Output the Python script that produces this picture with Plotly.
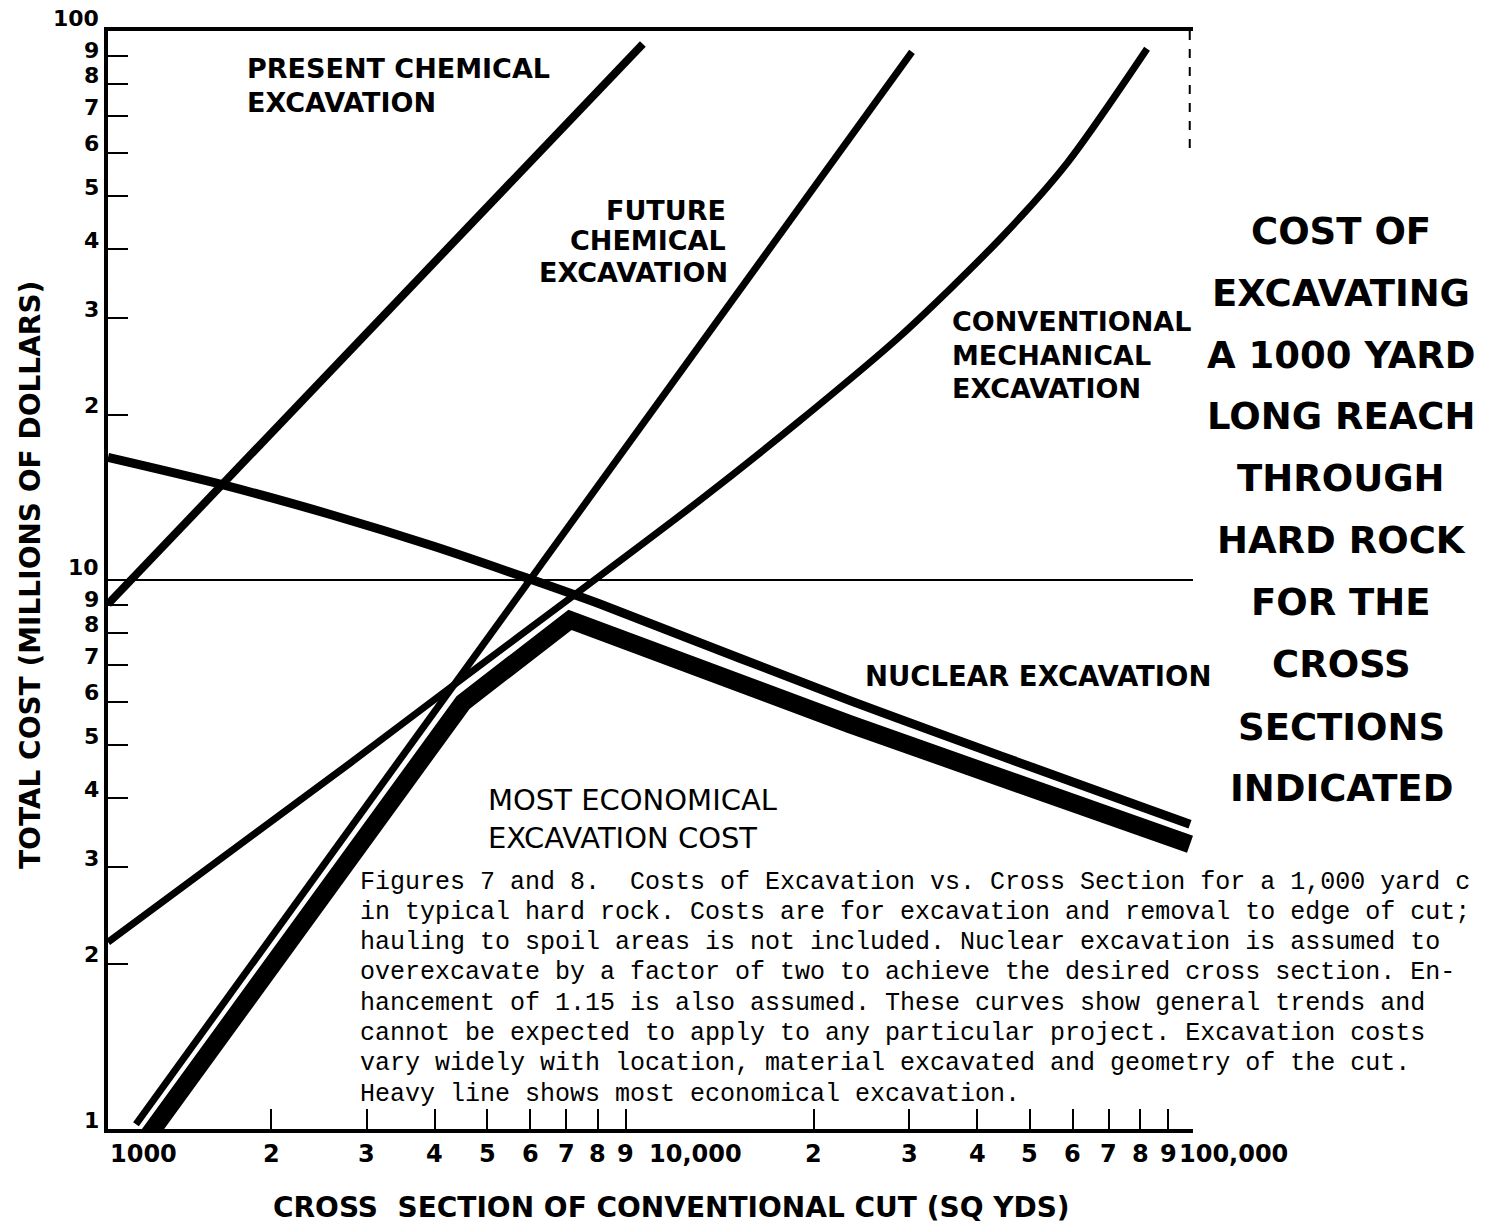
import math
import plotly.graph_objects as go

# ---- data: cross section of conventional cut (sq yds) vs total cost (millions of $) ----
present_x = [1000, 9680]
present_y = [9.04, 94.7]

future_x = [1126, 30340]
future_y = [1.02, 91.6]

conventional_x = [1000, 2795, 4395, 7320, 12330, 18860, 28840, 44080, 58560, 82280]
conventional_y = [2.19, 4.64, 6.50, 9.47, 13.97, 19.52, 27.8, 41.8, 57.4, 92.8]

nuclear_x = [1000, 1644, 2598, 3972, 5921, 8070, 23320, 98740]
nuclear_y = [16.72, 14.87, 13.12, 11.53, 10.08, 9.04, 6.03, 3.59]

# heavy line: cheapest method at each cross section
economical_x = [1184, 4512, 7105, 23320, 98740]
economical_y = [0.97, 5.98, 8.46, 5.46, 3.30]

rule_x = [1000, 100000]
rule_y = [10, 10]

# ---- tick values and labels ----
x_tick_vals = [m * d for d in (1000, 10000) for m in range(2, 10)] + [100000]
x_minor_labels = [str(m) for m in range(2, 10)]
x_major_vals = [1000, 10000, 100000]
x_major_labels = ["1000", "10,000", "100,000"]

y_tick_vals = [m * d for d in (1, 10) for m in range(2, 10)]
y_label_vals = [m for m in range(1, 10)] + [m * 10 for m in range(1, 10)] + [100]
y_label_text = [str(m) for m in range(1, 10)] + ["10"] + [str(m) for m in range(2, 10)] + ["100"]

caption_lines = [
    "Figures 7 and 8.  Costs of Excavation vs. Cross Section for a 1,000 yard c",
    "in typical hard rock. Costs are for excavation and removal to edge of cut;",
    "hauling to spoil areas is not included. Nuclear excavation is assumed to",
    "overexcavate by a factor of two to achieve the desired cross section. En-",
    "hancement of 1.15 is also assumed. These curves show general trends and",
    "cannot be expected to apply to any particular project. Excavation costs",
    "vary widely with location, material excavated and geometry of the cut.",
    "Heavy line shows most economical excavation.",
]

title_lines = ["COST OF", "EXCAVATING", "A 1000 YARD", "LONG REACH", "THROUGH",
               "HARD ROCK", "FOR THE", "CROSS", "SECTIONS", "INDICATED"]

# ---- page geometry ----
W, H = 1485, 1225
ML, MR, MT, MB = 108, 292, 31, 96
PW, PH = W - ML - MR, H - MT - MB

BOLD = "DejaVu Sans"
INK = "black"


def paper(px, py):
    return (px - ML) / PW, (H - MB - py) / PH


fig = go.Figure()

fig.add_trace(go.Scatter(x=rule_x, y=rule_y, mode="lines",
                         line=dict(color=INK, width=2), hoverinfo="skip"))
fig.add_trace(go.Scatter(x=economical_x, y=economical_y, mode="lines",
                         line=dict(color=INK, width=18), name="Most economical"))
fig.add_trace(go.Scatter(x=present_x, y=present_y, mode="lines",
                         line=dict(color=INK, width=8), name="Present chemical"))
fig.add_trace(go.Scatter(x=future_x, y=future_y, mode="lines",
                         line=dict(color=INK, width=7), name="Future chemical"))
fig.add_trace(go.Scatter(x=conventional_x, y=conventional_y, mode="lines",
                         line=dict(color=INK, width=7, shape="spline", smoothing=0.8),
                         name="Conventional mechanical"))
fig.add_trace(go.Scatter(x=nuclear_x, y=nuclear_y, mode="lines",
                         line=dict(color=INK, width=9, shape="spline", smoothing=0.8),
                         name="Nuclear"))

annotations = []


def label(text, px, py, anchor="left", size=27, weight="bold", family=BOLD, **kw):
    x, y = paper(px, py)
    annotations.append(dict(
        text=text, x=x, y=y, xref="paper", yref="paper",
        xanchor=anchor, yanchor="middle", showarrow=False,
        font=dict(family=family, size=size, color=INK, weight=weight), **kw))


# y tick labels, sitting just above their ticks
for v, t in zip(y_label_vals, y_label_text):
    lift = 13 if t in ("10", "100") else (6 if t == "9" else 9)
    annotations.append(dict(
        text=t, x=0, y=math.log10(v), xref="paper", yref="y",
        xanchor="right", yanchor="middle", xshift=-7, yshift=lift, showarrow=False,
        font=dict(family=BOLD, size=22, color=INK, weight="bold")))

# x tick labels
for v, t in zip(x_tick_vals, x_minor_labels * 2):
    annotations.append(dict(
        text=t, x=math.log10(v), y=0, xref="x", yref="paper",
        xanchor="center", yanchor="middle", yshift=-25, showarrow=False,
        font=dict(family=BOLD, size=24, color=INK, weight="bold")))
for v, t, dx in zip(x_major_vals, x_major_labels, (0, -4, -16)):
    annotations.append(dict(
        text=t, x=math.log10(v), y=0, xref="x", yref="paper",
        xanchor="left", yanchor="middle", xshift=dx, yshift=-25, showarrow=False,
        font=dict(family=BOLD, size=24, color=INK, weight="bold")))

# axis titles
label("CROSS\u00a0 SECTION OF CONVENTIONAL CUT (SQ YDS)", 672, 1207, anchor="center", size=28)
annotations.append(dict(
    text="TOTAL COST (MILLIONS OF DOLLARS)", x=paper(30, 575)[0], y=paper(30, 575)[1],
    xref="paper", yref="paper", xanchor="center", yanchor="middle", textangle=-90,
    showarrow=False, font=dict(family=BOLD, size=28, color=INK, weight="bold")))

# curve labels
label("PRESENT CHEMICAL", 245, 69)
label("EXCAVATION", 245, 102)
label("FUTURE", 728, 210, anchor="right")
label("CHEMICAL", 728, 240, anchor="right")
label("EXCAVATION", 730, 272, anchor="right")
label("CONVENTIONAL", 950, 321)
label("MECHANICAL", 950, 355)
label("EXCAVATION", 950, 388)
label("NUCLEAR EXCAVATION", 863, 676, size=27.5)
label("MOST ECONOMICAL", 486, 800, size=29, weight="normal")
label("EXCAVATION COST", 486, 838, size=29, weight="normal")

# title block at the right
title_y = [232, 293, 355, 416, 478, 540, 602, 664, 727, 788]
for t, py in zip(title_lines, title_y):
    label(t, 1341, py, anchor="center", size=37)

# caption
for i, t in enumerate(caption_lines):
    label(t, 358, 882 + 30.3 * i, size=25, weight="normal", family="Liberation Mono")

axis_common = dict(type="log", showgrid=False, zeroline=False, showticklabels=False,
                   ticks="inside", ticklen=20, tickwidth=2, tickcolor=INK,
                   showline=True, linecolor=INK, linewidth=3.5)

fig.update_layout(
    width=W, height=H,
    margin=dict(l=ML, r=MR, t=MT, b=MB, pad=0),
    paper_bgcolor="white", plot_bgcolor="white",
    showlegend=False,
    font=dict(family=BOLD, color=INK),
    xaxis=dict(range=[3, 5], tickvals=x_tick_vals, mirror=True, **axis_common),
    yaxis=dict(range=[0, 2], tickvals=y_tick_vals, **axis_common),
    annotations=annotations,
    shapes=[dict(type="line", xref="paper", yref="paper",
                 x0=0.997, x1=0.997, y0=1, y1=paper(0, 157)[1],
                 line=dict(color=INK, width=2, dash="dash"))],
)

fig.write_html("out.html")
